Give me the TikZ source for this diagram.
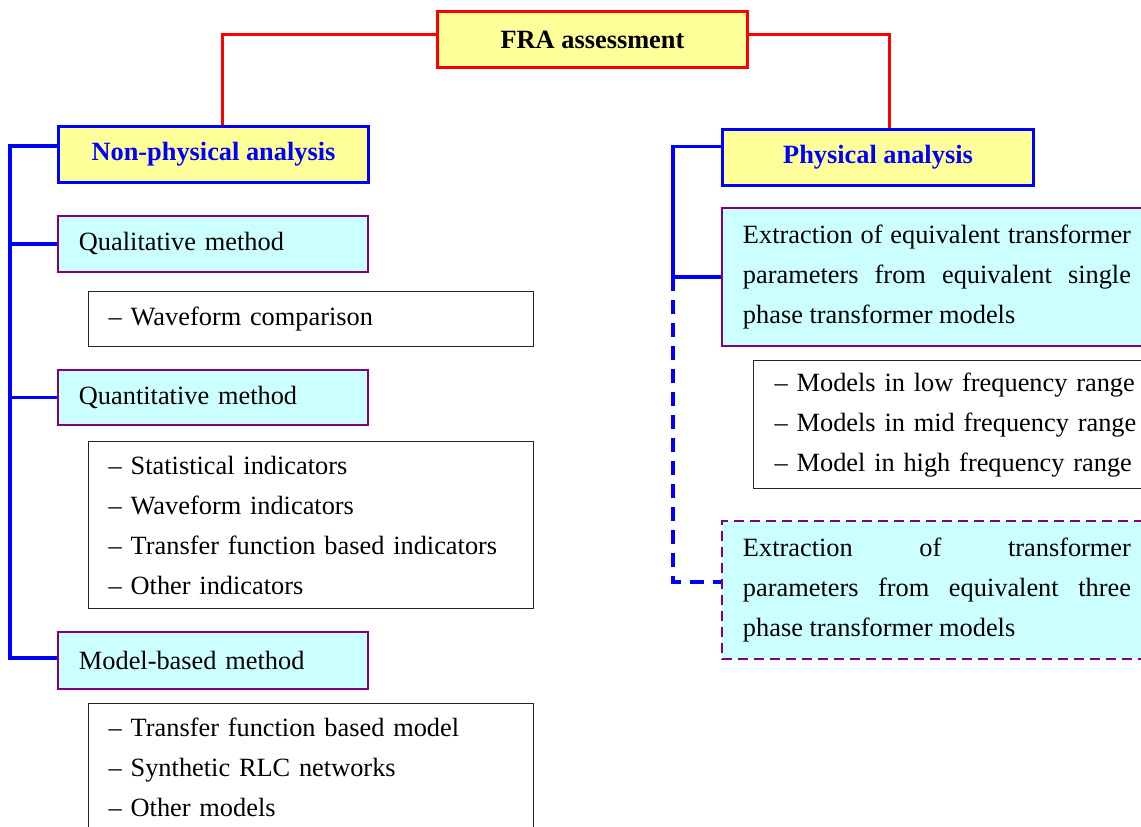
\documentclass[tikz,border=0pt]{standalone}
\usepackage{fontspec}
\setmainfont{Liberation Serif}
\usepackage{xcolor}
\usepackage{tikz}
\usetikzlibrary{positioning,calc}
\definecolor{PaleYel}{HTML}{FFFF99}
\definecolor{PaleCyan}{HTML}{CCFFFF}
\definecolor{Plum}{HTML}{800080}

\begin{document}
\begin{tikzpicture}[
  hdbox/.style={rectangle, draw=blue, line width=1.7pt, fill=PaleYel, anchor=north west,
               minimum width=6.2cm, minimum height=1.12cm, align=center,
               font=\fontsize{15}{22.8}\selectfont\bfseries, text=blue},
  catbox/.style={rectangle, draw=Plum, line width=1.1pt, fill=PaleCyan, anchor=north west,
               text width=5.36cm, inner xsep=0.42cm, minimum height=1.12cm, align=left,
               font=\fontsize{15}{22.8}\selectfont},
  extbox/.style={rectangle, draw=Plum, line width=1.1pt, fill=PaleCyan, anchor=north west,
               text width=7.76cm, inner xsep=0.42cm, minimum height=2.76cm, align=justify,
               font=\fontsize{15}{22.8}\selectfont},
  listbox/.style={rectangle, draw=black!85, line width=0.8pt, fill=white, anchor=north west,
               inner xsep=0.4cm, align=left, font=\fontsize{15}{22.8}\selectfont},
  rline/.style={draw=red, line width=2pt},
  bline/.style={draw=blue, line width=2pt}
]
\useasboundingbox (0,0) rectangle (22.82,-16.54);

% top level
\node[hdbox, draw=red, text=black] (fra) at (8.72,-0.2) {FRA assessment};
\node[hdbox] (nonphys) at (1.14,-2.5) {Non-physical analysis};
\node[hdbox, minimum width=6.22cm] (phys) at (14.42,-2.56) {Physical analysis};

% non-physical branch
\node[catbox] (qual) at (1.14,-4.3) {Qualitative method};
\node[listbox, text width=8.1cm, minimum height=1.1cm] (wave) at (1.76,-5.82)
  {-- Waveform comparison};
\node[catbox, minimum height=1.1cm] (quant) at (1.14,-7.38) {Quantitative method};
\node[listbox, text width=8.1cm, minimum height=3.34cm] (ind) at (1.76,-8.82)
  {-- Statistical indicators\\-- Waveform indicators\\-- Transfer function based indicators\\-- Other indicators};
\node[catbox, minimum height=1.14cm] (model) at (1.14,-12.62) {Model-based method};
\node[listbox, text width=8.1cm, minimum height=2.56cm] (mlist) at (1.76,-14.06)
  {-- Transfer function based model\\-- Synthetic RLC networks\\-- Other models};

% physical branch
\node[extbox] (ext1) at (14.42,-4.14)
  {Extraction of equivalent transformer\linebreak parameters from equivalent single\linebreak phase transformer models};
\node[listbox, text width=7.8cm, inner xsep=0.42cm, minimum height=2.56cm] (rlist) at (15.06,-7.2)
  {-- Models in low frequency range\\-- Models in mid frequency range\\-- Model in high frequency range};
\node[extbox, dashed, dash pattern=on 0.2cm off 0.12cm] (ext2) at (14.42,-10.4)
  {Extraction of transformer\linebreak parameters from equivalent three\linebreak phase transformer models};

% connectors
\coordinate (ltrunk) at (0.2,-13.16);
\coordinate (rtrunk) at (13.46,-11.64);

\draw[rline] ([yshift=0.1cm]fra.west) -| ([xshift=0.18cm]nonphys.north);
\draw[rline] ([yshift=0.1cm]fra.east) -| ([xshift=0.23cm]phys.north);

\draw[bline] ([yshift=0.17cm]nonphys.west) -| (ltrunk) -- (model.west |- ltrunk);
\draw[bline] (qual.west) -- (qual.west -| ltrunk);
\draw[bline] (quant.west) -- (quant.west -| ltrunk);

\draw[bline] ([yshift=0.22cm]phys.west) -| (ext1.west -| rtrunk) -- (ext1.west);
\draw[bline, dash pattern=on 0.28cm off 0.18cm] (ext1.west -| rtrunk) -- (rtrunk) -- (ext2.west |- rtrunk);
\end{tikzpicture}
\end{document}
